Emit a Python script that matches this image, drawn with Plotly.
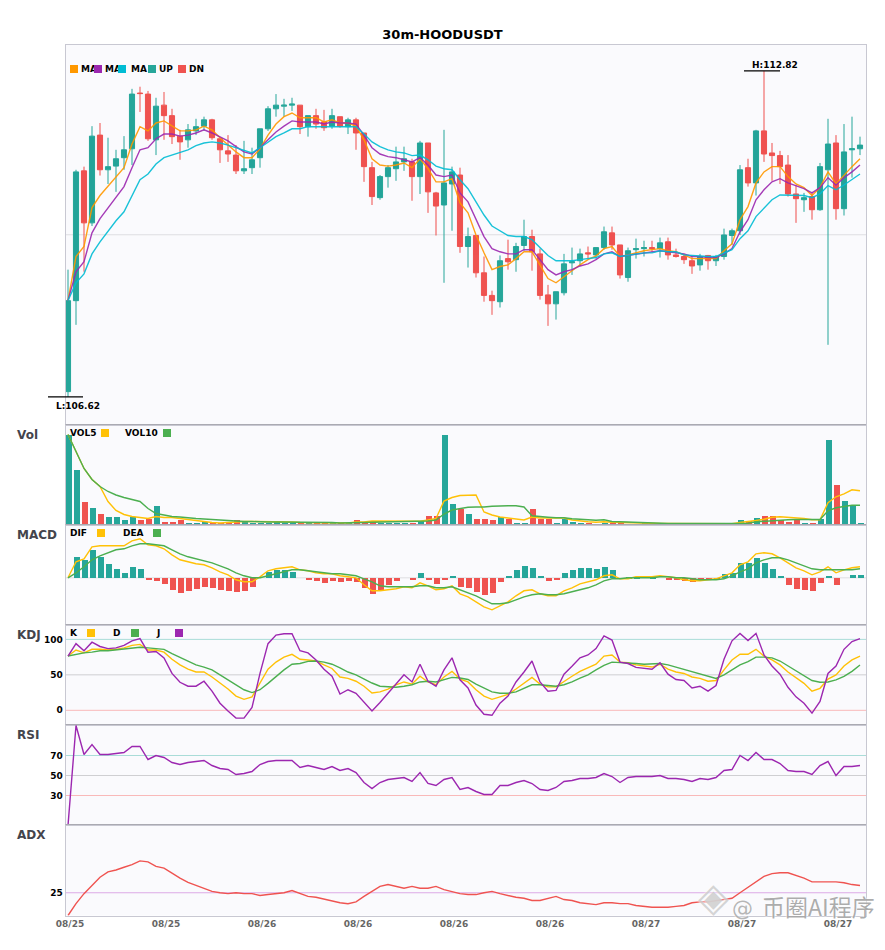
import plotly.graph_objects as go
from plotly.subplots import make_subplots

# candles
open_ = [106.72,108.45,110.92,109.93,111.60,110.94,111.01,111.17,111.34,112.40,
         112.38,111.51,112.17,111.97,111.58,111.51,111.68,111.77,111.89,111.53,
         111.30,111.22,110.92,110.98,111.17,111.72,112.10,112.15,112.17,112.17,
         111.76,111.97,111.85,111.77,111.95,111.76,111.89,111.64,110.98,110.41,
         110.81,110.96,111.09,111.09,110.81,111.45,110.50,110.27,110.67,110.84,
         109.48,109.69,108.98,108.55,108.43,109.25,109.23,109.50,109.67,109.34,
         108.56,108.39,108.60,109.17,109.21,109.36,109.32,109.46,109.74,109.51,
         108.89,109.42,109.44,109.46,109.44,109.57,109.32,109.29,109.21,109.13,
         109.31,109.21,109.29,109.69,109.78,110.98,110.69,111.68,111.26,111.21,
         111.03,110.48,110.37,110.43,110.18,110.94,111.45,110.20,111.32,111.34]
high = [109.04,110.94,111.00,111.77,111.83,111.55,111.32,111.58,112.48,112.52,
        112.44,112.31,112.42,112.10,111.70,111.81,111.91,111.95,111.91,111.53,
        111.60,111.41,111.49,111.36,111.72,112.15,112.38,112.29,112.31,112.17,
        111.97,112.10,112.08,112.10,111.95,111.93,111.93,111.64,111.09,110.84,
        111.03,111.38,111.38,111.15,111.49,111.45,110.52,111.70,111.00,110.98,
        109.84,109.69,109.29,108.64,109.31,109.61,109.55,109.99,109.80,109.44,
        108.75,108.62,109.34,109.46,109.44,109.48,109.46,109.86,109.86,109.51,
        109.46,109.63,109.59,109.59,109.65,109.65,109.44,109.34,109.29,109.34,
        109.32,109.32,109.82,109.82,111.03,111.15,111.70,112.82,111.45,111.30,
        111.22,110.65,110.50,110.52,111.07,111.91,111.60,111.81,111.95,111.57]
low = [106.62,107.99,109.00,109.87,110.83,110.67,110.52,110.94,111.03,112.04,
       111.49,111.22,111.51,111.43,111.13,111.36,111.60,111.68,111.51,111.07,
       111.09,110.86,110.86,110.86,110.98,111.68,111.95,111.95,112.06,111.62,
       111.57,111.72,111.68,111.72,111.74,111.62,111.32,110.71,110.27,110.37,
       110.60,110.73,110.92,110.35,110.48,110.12,109.69,108.79,109.78,109.36,
       109.08,108.89,108.43,108.18,108.32,109.04,109.00,109.40,109.02,108.47,
       107.97,108.09,108.55,108.94,109.11,109.25,109.25,109.42,109.42,108.87,
       108.81,109.25,109.29,109.38,109.27,109.23,109.27,109.15,108.96,109.02,
       109.04,109.11,109.23,109.51,109.70,110.62,110.45,111.09,110.73,110.67,
       110.43,109.93,110.14,109.99,110.16,107.61,109.99,110.07,110.79,111.22]
close = [108.45,110.90,109.93,111.58,110.94,111.00,111.15,111.32,112.38,112.39,
         111.53,112.15,111.97,111.57,111.47,111.70,111.76,111.89,111.55,111.32,
         111.24,110.92,110.96,111.13,111.72,112.10,112.17,112.17,112.19,111.76,
         111.97,111.81,111.74,111.97,111.77,111.89,111.64,111.00,110.43,110.81,
         110.98,111.09,111.15,110.81,111.45,110.52,110.25,110.69,110.90,109.48,
         109.67,108.98,108.55,108.45,109.21,109.19,109.48,109.67,109.38,108.55,
         108.39,108.62,109.15,109.19,109.34,109.34,109.46,109.76,109.51,108.94,
         109.40,109.44,109.46,109.44,109.55,109.32,109.29,109.23,109.11,109.29,
         109.21,109.29,109.70,109.78,110.94,110.69,111.68,111.24,111.21,111.00,
         110.48,110.39,110.41,110.18,111.00,111.43,110.20,111.28,111.34,111.41]

ma_fast = [108.45,109.29,109.48,110.22,110.45,110.62,110.81,110.98,111.43,111.76,
           111.68,111.83,111.87,111.77,111.68,111.68,111.70,111.77,111.70,111.55,
           111.41,111.28,111.17,111.17,111.34,111.60,111.81,111.95,112.02,111.93,
           111.93,111.93,111.85,111.89,111.83,111.83,111.77,111.51,111.15,111.03,
           111.01,111.03,111.07,110.98,111.15,110.96,110.71,110.71,110.77,110.31,
           110.12,109.70,109.36,109.04,109.10,109.13,109.25,109.38,109.38,109.13,
           108.87,108.79,108.91,109.02,109.13,109.23,109.30,109.44,109.48,109.29,
           109.32,109.36,109.40,109.42,109.44,109.40,109.38,109.32,109.25,109.25,
           109.25,109.25,109.40,109.53,109.99,110.24,110.69,110.90,111.00,111.00,
           110.81,110.67,110.60,110.45,110.60,110.90,110.67,110.84,111.00,111.15]
ma_mid = [108.45,109.00,109.19,109.74,110.01,110.22,110.41,110.62,110.98,111.32,
          111.36,111.53,111.62,111.62,111.58,111.60,111.64,111.70,111.64,111.57,
          111.49,111.38,111.28,111.24,111.36,111.51,111.66,111.77,111.87,111.85,
          111.85,111.85,111.81,111.85,111.83,111.83,111.81,111.60,111.36,111.24,
          111.19,111.17,111.13,111.09,111.17,111.03,110.84,110.81,110.84,110.50,
          110.33,109.99,109.67,109.44,109.38,109.34,109.34,109.42,109.42,109.23,
          109.04,108.94,109.00,109.04,109.11,109.15,109.23,109.34,109.38,109.29,
          109.31,109.34,109.36,109.38,109.40,109.38,109.36,109.34,109.29,109.29,
          109.27,109.27,109.34,109.44,109.76,109.99,110.37,110.56,110.71,110.77,
          110.69,110.64,110.58,110.50,110.60,110.79,110.65,110.79,110.90,111.03]
ma_slow = [108.45,108.79,108.96,109.34,109.57,109.78,109.97,110.14,110.45,110.75,
           110.86,111.05,111.17,111.22,111.26,111.32,111.40,111.45,111.47,111.45,
           111.41,111.36,111.30,111.26,111.36,111.47,111.57,111.64,111.72,111.72,
           111.76,111.76,111.76,111.77,111.77,111.77,111.76,111.62,111.47,111.38,
           111.32,111.28,111.26,111.21,111.22,111.13,111.01,110.96,110.94,110.75,
           110.58,110.33,110.08,109.87,109.78,109.69,109.67,109.67,109.61,109.46,
           109.31,109.21,109.21,109.21,109.23,109.25,109.27,109.34,109.36,109.29,
           109.31,109.34,109.36,109.36,109.40,109.38,109.38,109.32,109.31,109.29,
           109.29,109.29,109.36,109.42,109.63,109.78,110.05,110.22,110.37,110.46,
           110.46,110.45,110.45,110.41,110.48,110.64,110.56,110.65,110.75,110.86]

volume = [90.3,55,23,17,11,8,8,5,8,5,
          6,19,3.5,3.5,5,1.5,1.5,3,2,1.5,
          3,5,3.5,2.5,2.5,2.5,4,2.5,2.5,2,
          2.5,1.5,1.5,1.5,1.5,1.5,5.5,2,4.5,2.5,
          2.5,2.5,2.5,2,4.5,9.5,9.5,90.5,21.5,16.5,
          11.5,6.5,6.5,5.5,8.5,6,2.5,2.5,16.5,6.5,
          6,2.5,6.5,3.5,2.5,1.5,0.7,2.5,3,1.5,
          1,1,1.5,0.7,0.7,1,0.7,0.7,0.7,0.3,
          0.3,0.3,2.5,1,5.5,4.5,7.5,9.5,9.5,5.5,
          3.5,5.5,2.5,2.5,6.5,85,40.5,24.5,19.5,2.5]
vol5 = [90,73,56,45,38,23,14,10,8,7,
        6,8,7,7,6,4.5,3.5,2.5,2,1.5,
        2,3,3,3,3,3,3,2.5,2.5,2,
        2,2,1.7,1.5,1.5,1.5,2.5,2.5,3.5,3.5,
        3.3,3,3,3,3.3,4.5,6,23.5,27,29,
        29,29.5,12.5,9.5,7.5,6.5,5.5,4.5,7.5,6.5,
        6.5,6.5,6.5,4.5,3.5,2.7,2.3,2.7,2.3,2,
        1.7,1.3,1.3,1,1,1,1,0.7,0.7,0.3,
        0.3,0.3,0.7,0.7,2,2.7,4,5.3,7.3,7.7,
        7.3,6.3,6,4.7,4.7,21.7,27.7,30.7,34.7,33.7]
vol10 = [90,73,56,45,38,33,29.5,27,25,23,
         16,11,9.5,8,7.5,6.5,6,5.5,5,4.5,
         3.5,3.5,3,3,2.5,2.5,2.5,2.5,2.5,2.5,
         2.3,2.3,2.3,2,1.5,1.5,2,2,2.3,2.5,
         2.5,2.7,2.7,2.7,3,3.5,4.5,10.5,14.5,16,
         17.3,17.5,17.5,18.3,18.7,18.7,18.7,17.5,8.7,8.3,
         7.3,6.7,6.7,5.7,5.3,4.7,4.3,4.7,3,2.7,
         2.3,2.3,1.7,1.3,1.3,1,1,1,1,0.7,
         0.7,0.7,0.7,0.7,1,1.3,2.7,3.3,4,4,
         4.7,5,5,5,5,13.7,16.7,18,19.3,19.3]

macd_bar = [0,.21,.18,.28,.21,.14,.09,.05,.11,.09,
            -.015,-.03,-.06,-.12,-.15,-.13,-.11,-.09,-.10,-.12,
            -.13,-.14,-.13,-.09,0,.06,.08,.08,.06,0,
            -.01,-.03,-.05,-.03,-.04,-.03,-.04,-.10,-.16,-.13,
            -.07,-.03,0,-.01,.05,-.01,-.06,-.02,.02,-.09,
            -.10,-.14,-.17,-.15,-.04,.02,.08,.12,.10,.02,
            -.03,-.01,.05,.08,.10,.10,.09,.11,.08,0,
            .01,.01,.02,.01,0,-.01,-.02,-.03,-.04,-.02,
            -.02,-.01,.04,.05,.15,.15,.20,.15,.09,.02,
            -.07,-.11,-.12,-.13,-.05,.02,-.07,0,.03,.03]
dif = [0,.16,.19,.31,.32,.32,.32,.32,.37,.39,
       .33,.32,.29,.23,.18,.16,.14,.13,.10,.06,
       .03,-.02,-.04,-.04,.01,.07,.09,.10,.11,.08,
       .07,.05,.04,.04,.02,.01,0,-.07,-.13,-.13,
       -.12,-.11,-.09,-.10,-.05,-.08,-.12,-.11,-.08,-.16,
       -.19,-.24,-.29,-.32,-.28,-.24,-.18,-.13,-.12,-.16,
       -.18,-.18,-.13,-.10,-.06,-.04,-.02,.02,.03,-.01,
       -.01,.01,.01,.01,.02,.01,0,-.02,-.03,-.03,
       -.02,-.01,.02,.05,.13,.16,.24,.25,.24,.20,
       .15,.10,.07,.03,.06,.11,.05,.08,.10,.11]
dea = [0,.05,.11,.18,.22,.25,.28,.29,.32,.34,
       .34,.33,.32,.28,.24,.21,.19,.17,.15,.12,
       .09,.05,.02,0,0,.02,.04,.06,.08,.08,
       .07,.06,.05,.04,.04,.03,.02,-.01,-.04,-.08,
       -.09,-.09,-.09,-.09,-.08,-.08,-.10,-.10,-.09,-.12,
       -.15,-.18,-.22,-.26,-.26,-.25,-.22,-.19,-.17,-.16,
       -.17,-.17,-.16,-.14,-.12,-.10,-.07,-.03,-.01,-.01,
       0,0,0,0,.01,.01,0,0,-.01,-.02,
       -.02,-.02,-.01,.02,.06,.09,.15,.18,.20,.20,
       .18,.15,.12,.09,.08,.08,.08,.08,.08,.09]

kdj_k = [76.5,85,81,86,86,85,86,88,91.5,93,
         85,85,82,72,64,58,54,54,47,38.5,
         30,20,15.5,19,38,58,68,75,79,72,
         71,69.5,64,59,47,45,41,34,24.5,26,
         30,36,40,37,48,40,36,47,55,44,
         40,29,20,15.5,19,22.5,30,38.5,46.5,37,
         33,33,41,48,55,60,65,76.5,78,68,
         67,64,62.5,61,65,58,54,52,47,45,
         41,42,57,71,79,79,86,76.5,71,64,
         54,45.5,38,27,31,44,50,62.5,71,76.5]
kdj_d = [76.5,79,81,82,84,84,85,86,88,89,
         88,87,86,80,75,69,64,61,57,50,
         43,36,29,25,29,38,48,57,65,66,
         69,69.5,68,65,60,54,50,44,38.5,34,
         33,32.5,34,36,40,41,40,43,46.5,45.5,
         43.5,37,31.5,26,24,24,26,31.5,36,36,
         35,34,36,40,45.5,50,57,63.5,68,67.5,
         67.5,66,65,65,66,64,61,58,54,51,
         48,45,50,57,64,68.5,75,75,74,69.5,
         62.5,55,48,42,39.5,40,43,48,55,64]
kdj_j = [76.5,94,84,96,90,87,88,91.5,98,101,
         82,83,74,52,39.5,34,34,41,27,10,
         -1,-11,-11,4,52,94,106,108,108,84,
         81,71,58,48,23,29,24,12,-1,11,
         24.5,38,50,40,65,41,34,57,74,43,
         31.5,7.5,-5.5,-7,10,20,40,54,69.5,40,
         27,28,51,62,74,78,87,105,99,68,
         66,60.5,59,58,67,51,43.5,42,31.5,34,
         27,35,72,98,108.5,98.5,108.5,78,62.5,51,
         32.5,19,10,-4,12.5,52,62.5,86,97,101]

rsi = [0,100,71,81,71,71,72,73,79,79,
       66,70,68,63,61,63,64,65,60,57,
       56,51,52,54,61,64,65,65,65,58,
       60,58,56,59,55,57,53,43,37,43,
       46,47,48,44,53,42,40,46,48,36,
       38,34,31,31,40,40,43,45,42,36,
       35,38,44,45,47,47,48,52,49,43,
       48,49,49,49,50,47,47,46,44,47,
       46,48,55,56,70,65,73,66,66,62,
       55,54,54,51,60,64,50,59,59,60]

adx = [0,13,24,33,42,48,50,53,56,60,
       59,54,52,46.5,41,36.5,33,30,26.5,25,
       24,25,24,24,22,23,24,25,27.5,24,
       21,20,18,16,14,13,15,21,26.5,32,
       34,32,30,32,30,30,32,28.5,26.5,24,
       23,23,25,26.5,24,22,20,19,16.5,16.5,
       19,21,17.5,16.5,14,13,12,14,14,13,
       13,11,10,9,9,9,10,11,14,15,
       15,16.5,17.5,19,25,31,37,43,46,47,
       47,44,41,37,37,37,37,36,34,33]

tick_idx = [0,12,24,36,48,60,72,84,96]
tick_labels = ["08/25","08/25","08/26","08/26","08/26","08/26","08/27","08/27","08/27"]

UP = "#26a69a"
DN = "#ef5350"
FONT = "DejaVu Sans"
# the page has an 8px body margin, so the figure is 8px smaller than the window
PAGE = 8
W, H = 885 - PAGE, 950 - PAGE
LEFT, RIGHT = 65.5, 866
LINE = 1.4
idx = list(range(len(close)))
x_range = [-0.3125, 99.75]


def px(x):
    return (x - PAGE) / W


def py(y):
    return 1 - (y - PAGE) / H


def idx_paper(i):
    return px(68 + 8 * i)


fig = make_subplots(rows=6, cols=1, shared_xaxes=True, vertical_spacing=0)

fig.add_trace(go.Candlestick(x=idx, open=open_, high=high, low=low, close=close,
                             increasing=dict(line=dict(color=UP, width=1), fillcolor=UP),
                             decreasing=dict(line=dict(color=DN, width=1), fillcolor=DN),
                             whiskerwidth=0), row=1, col=1)
for vals, col in [(ma_fast, "#ff9800"), (ma_mid, "#9c27b0"), (ma_slow, "#00bcd4")]:
    fig.add_trace(go.Scatter(x=idx, y=vals, mode="lines", line=dict(color=col, width=LINE), opacity=0.9), row=1, col=1)

vol_colors = [UP if c >= o else DN for o, c in zip(open_, close)]
fig.add_trace(go.Bar(x=idx, y=volume, marker=dict(color=vol_colors, line_width=0), width=0.75), row=2, col=1)
fig.add_trace(go.Scatter(x=idx, y=vol5, mode="lines", line=dict(color="#ffc107", width=LINE)), row=2, col=1)
fig.add_trace(go.Scatter(x=idx, y=vol10, mode="lines", line=dict(color="#4caf50", width=LINE)), row=2, col=1)

macd_colors = [UP if v >= 0 else DN for v in macd_bar]
fig.add_trace(go.Bar(x=idx, y=macd_bar, marker=dict(color=macd_colors, line_width=0), width=0.75), row=3, col=1)
fig.add_trace(go.Scatter(x=idx, y=dif, mode="lines", line=dict(color="#ffc107", width=LINE)), row=3, col=1)
fig.add_trace(go.Scatter(x=idx, y=dea, mode="lines", line=dict(color="#4caf50", width=LINE)), row=3, col=1)

fig.add_trace(go.Scatter(x=idx, y=kdj_k, mode="lines", line=dict(color="#ffc107", width=LINE)), row=4, col=1)
fig.add_trace(go.Scatter(x=idx, y=kdj_d, mode="lines", line=dict(color="#4caf50", width=LINE)), row=4, col=1)
fig.add_trace(go.Scatter(x=idx, y=kdj_j, mode="lines", line=dict(color="#9c27b0", width=LINE)), row=4, col=1)

fig.add_trace(go.Scatter(x=idx, y=rsi, mode="lines", line=dict(color="#9c27b0", width=LINE)), row=5, col=1)
fig.add_trace(go.Scatter(x=idx, y=adx, mode="lines", line=dict(color="#ef5350", width=LINE)), row=6, col=1)

# panel positions
panels = [(45, 424.5), (424.5, 524.5), (524.5, 624.5), (624.5, 724.5), (724.5, 824.5), (824.5, 915.5)]
y_ranges = [[106.094, 113.314], [0, 100], [-0.467, 0.533], [-20, 121], [1, 101], [0, 100]]
for n, ((top, bottom), rng) in enumerate(zip(panels, y_ranges), start=1):
    fig.update_yaxes(domain=[py(bottom), py(top)], range=rng, fixedrange=True, showgrid=False, zeroline=False,
                     showline=True, linecolor="#c8c8d2", linewidth=1, mirror=True, automargin=False,
                     showticklabels=False, ticks="", row=n, col=1)
    fig.update_xaxes(domain=[px(LEFT), px(RIGHT)], range=x_range, showgrid=False, zeroline=False,
                     showline=True, linecolor="#c8c8d2", linewidth=1, mirror=True, ticks="", automargin=False,
                     rangeslider_visible=False, row=n, col=1)

tick_font = dict(family=FONT, size=9, color="#000000", weight="bold")
fig.update_yaxes(showticklabels=True, tickmode="array", tickvals=[0, 50, 100], tickfont=tick_font, row=4, col=1)
fig.update_yaxes(showticklabels=True, tickmode="array", tickvals=[30, 50, 70], tickfont=tick_font, row=5, col=1)
fig.update_yaxes(showticklabels=True, tickmode="array", tickvals=[25], tickfont=tick_font, row=6, col=1)
fig.update_xaxes(showticklabels=True, tickmode="array", tickvals=[i + 0.25 for i in tick_idx], ticktext=tick_labels,
                 tickfont=dict(family=FONT, size=9, color="#666666", weight="bold"), row=6, col=1)

# level lines
levels = [("y", 109.704, "#dedee2"), ("y3", 0, "#dedee2"),
          ("y4", 100, "#a9dcd8"), ("y4", 50, "#cfcfd2"), ("y4", 0, "#f9b9b9"),
          ("y5", 70, "#a9dcd8"), ("y5", 50, "#cfcfd2"), ("y5", 30, "#f9b9b9"),
          ("y6", 25, "#dcaae6")]
shapes = []
for yref, val, col in levels:
    shapes.append(dict(type="line", xref="paper", yref=yref, x0=px(LEFT), x1=px(RIGHT), y0=val, y1=val,
                       line=dict(color=col, width=1), layer="below"))
# darker separators between the panels
for top, bottom in panels[1:]:
    shapes.append(dict(type="line", xref="paper", yref="paper", x0=px(LEFT), x1=px(RIGHT), y0=py(top), y1=py(top),
                       line=dict(color="#aaaab2", width=1)))

annotations = []


def label(text, x, y, size=9, color="#000000", anchor="left", **kw):
    annotations.append(dict(text="<b>" + text + "</b>", xref="paper", yref="paper", x=px(x), y=py(y),
                            xanchor=anchor, yanchor="middle", showarrow=False, borderpad=0, borderwidth=0,
                            font=dict(family=FONT, size=size, color=color), **kw))


def square(x, y, color):
    annotations.append(dict(text="&nbsp;", xref="paper", yref="paper", x=px(x), y=py(y), xanchor="left",
                            yanchor="middle", showarrow=False, width=8, height=8, bgcolor=color,
                            borderpad=0, borderwidth=0, font=dict(size=6)))


for name, y in [("Vol", 435), ("MACD", 535), ("KDJ", 635), ("RSI", 735), ("ADX", 835)]:
    label(name, 17, y, size=12, color="#44444c")

# main legend: text first so the squares cover it
for text, x in [("MA", 81), ("MA", 105), ("MA", 131), ("UP", 159), ("DN", 189)]:
    label(text, x, 69)
for x, col in [(70, "#ff9800"), (94, "#9c27b0"), (118, "#00bcd4"), (148, UP), (178, DN)]:
    square(x, 69, col)

label("VOL5", 70, 433)
square(101, 433, "#ffc107")
label("VOL10", 125, 433)
square(163, 433, "#4caf50")
label("DIF", 70, 533)
square(97, 533, "#ffc107")
label("DEA", 123, 533)
square(153, 533, "#4caf50")
label("K", 70, 633)
square(87, 633, "#ffc107")
label("D", 113, 633)
square(131, 633, "#4caf50")
label("J", 156, 633)
square(175, 633, "#9c27b0")

# high / low markers
hi = high.index(max(high))
lo = low.index(min(low))
shapes.append(dict(type="line", xref="paper", yref="y", x0=idx_paper(hi) - 20 / W, x1=idx_paper(hi) + 16 / W,
                   y0=high[hi], y1=high[hi], line=dict(color="#000000", width=1.2)))
shapes.append(dict(type="line", xref="paper", yref="y", x0=idx_paper(lo) - 20 / W, x1=idx_paper(lo) + 15 / W,
                   y0=low[lo], y1=low[lo], line=dict(color="#000000", width=1.2)))
annotations.append(dict(text="<b>H:%.2f</b>" % high[hi], xref="x", yref="y", x=hi, y=high[hi], xshift=11, yshift=6,
                        showarrow=False, font=dict(family=FONT, size=9, color="#000000")))
annotations.append(dict(text="<b>L:%.2f</b>" % low[lo], xref="x", yref="y", x=lo, y=low[lo], xshift=10, yshift=-9,
                        showarrow=False, font=dict(family=FONT, size=9, color="#000000")))

# watermark
HALO = "0 0 2px #ffffff, 0 0 2px #ffffff"
annotations.append(dict(text="◈", xref="paper", yref="paper", x=px(713), y=py(922), xanchor="center", showarrow=False,
                        font=dict(family=FONT, size=40, color="rgba(185,185,185,0.6)", shadow=HALO)))
annotations.append(dict(text="@", xref="paper", yref="paper", x=px(742), y=py(923), xanchor="center", showarrow=False,
                        font=dict(family=FONT, size=21, color="rgba(150,150,150,0.7)", shadow=HALO)))
annotations.append(dict(text="币圈AI程序", xref="paper", yref="paper", x=px(877), y=py(925), xanchor="right",
                        showarrow=False, font=dict(family="Noto Sans CJK SC", size=23, color="rgba(145,145,145,0.75)", shadow=HALO)))

fig.update_layout(width=W, height=H, margin=dict(l=0, r=0, t=0, b=0), showlegend=False,
                  paper_bgcolor="#ffffff", plot_bgcolor="#fafafd", boxgap=0.36, boxgroupgap=0, boxmode="overlay",
                  bargap=0, barmode="overlay", shapes=shapes, annotations=annotations,
                  title=dict(text="<b>30m-HOODUSDT</b>", x=px(442.5), xanchor="center", y=py(34), yanchor="middle",
                             font=dict(family=FONT, size=13, color="#000000")))

fig.write_html("out.html")
